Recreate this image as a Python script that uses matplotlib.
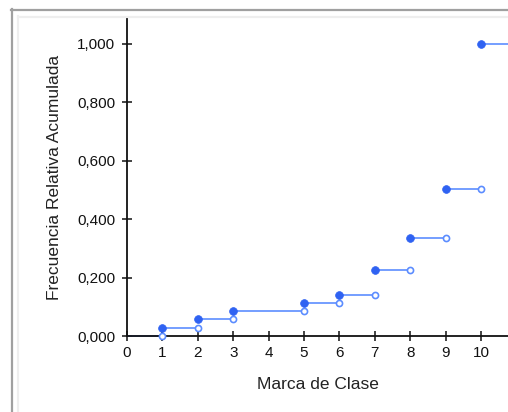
import matplotlib
matplotlib.use("Agg")
import matplotlib.pyplot as plt
from matplotlib.lines import Line2D
from matplotlib.ticker import FuncFormatter

# Data
marcas = [1, 2, 3, 5, 6, 7, 8, 9, 10]
frec_rel_acum = [0.026, 0.057, 0.087, 0.114, 0.140, 0.226, 0.336, 0.503, 1.000]
x_ticks = [0, 1, 2, 3, 4, 5, 6, 7, 8, 9, 10]
y_ticks = [0.0, 0.2, 0.4, 0.6, 0.8, 1.0]
x_label = "Marca de Clase"
y_label = "Frecuencia Relativa Acumulada"

plt.rcParams['font.family'] = ['Liberation Sans', 'DejaVu Sans']

W, H = 508, 412
fig = plt.figure(figsize=(W / 100, H / 100), dpi=100)
fig.patch.set_facecolor('white')

# window frame lines
def hline(y, x0, x1, color, lw):
    fig.add_artist(Line2D([x0 / W, x1 / W], [1 - y / H, 1 - y / H], color=color, lw=lw,
                          transform=fig.transFigure))
def vline(x, y0, y1, color, lw):
    fig.add_artist(Line2D([x / W, x / W], [1 - y0 / H, 1 - y1 / H], color=color, lw=lw,
                          transform=fig.transFigure))

hline(9.8, 11, W, '#a0a0a0', 1.6)
vline(12, 9, H, '#a0a0a0', 1.6)
hline(16.5, 17.5, W, '#eeeeee', 1.6)
vline(17.5, 16, H, '#eeeeee', 1.6)

left, right, top, bottom = 127, 508, 18, 336
ax = fig.add_axes([left / W, 1 - bottom / H, (right - left) / W, (bottom - top) / H])
ax.set_xlim(0, 10.76)
ax.set_ylim(0, 1.089)

line_c = '#5c8dff'
mark_c = '#2f62f2'

prev_x, prev_y = 0, 0.0
for xm, ym in zip(marcas, frec_rel_acum):
    ax.plot([prev_x, xm], [prev_y, prev_y], color=line_c, lw=1.2, zorder=2, clip_on=False)
    ax.plot([xm], [prev_y], marker='o', ms=4.4, mfc='white', mec=line_c, mew=1.2,
            zorder=4, clip_on=False, ls='none')
    prev_x, prev_y = xm, ym
ax.plot([prev_x, 10.76], [prev_y, prev_y], color=line_c, lw=1.2, zorder=2, clip_on=False)
ax.plot(marcas, frec_rel_acum, marker='o', ms=5.6, mfc=mark_c, mec=mark_c, mew=0.5,
        ls='none', zorder=5, clip_on=False)

for s in ['top', 'right']:
    ax.spines[s].set_visible(False)
for s in ['left', 'bottom']:
    ax.spines[s].set_linewidth(1.3)
    ax.spines[s].set_color('#111111')

ax.set_xticks(x_ticks)
ax.set_yticks(y_ticks)
ax.yaxis.set_major_formatter(FuncFormatter(lambda v, p: f"{v:.3f}".replace('.', ',')))
ax.tick_params(direction='inout', length=7, width=1.1, labelsize=11, colors='#111111')
ax.tick_params(axis='y', pad=5)
ax.tick_params(axis='x', pad=4)

ax.set_xlabel(x_label, fontsize=12.5, color='#222222', labelpad=12)
ax.set_ylabel(y_label, fontsize=12.5, color='#222222', labelpad=11)

fig.savefig('out.png', dpi=100, facecolor='white')
